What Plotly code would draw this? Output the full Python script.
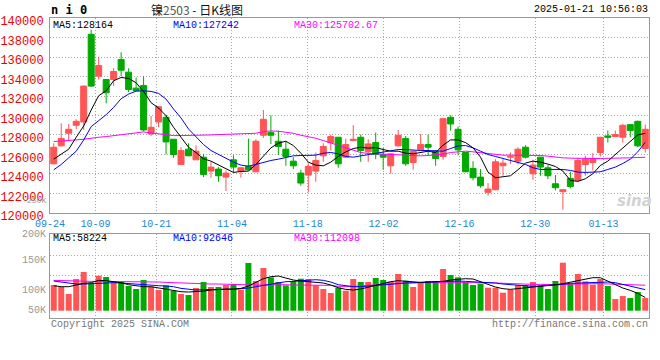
import plotly.graph_objects as go

# ---------------- data ----------------
dates = [
    "2024-09-24", "2024-09-25", "2024-09-26", "2024-09-27", "2024-09-30",
    "2024-10-08", "2024-10-09", "2024-10-10", "2024-10-11", "2024-10-14",
    "2024-10-15", "2024-10-16", "2024-10-17", "2024-10-18", "2024-10-21",
    "2024-10-22", "2024-10-23", "2024-10-24", "2024-10-25", "2024-10-28",
    "2024-10-29", "2024-10-30", "2024-10-31", "2024-11-01", "2024-11-04",
    "2024-11-05", "2024-11-06", "2024-11-07", "2024-11-08", "2024-11-11",
    "2024-11-12", "2024-11-13", "2024-11-14", "2024-11-15", "2024-11-18",
    "2024-11-19", "2024-11-20", "2024-11-21", "2024-11-22", "2024-11-25",
    "2024-11-26", "2024-11-27", "2024-11-28", "2024-11-29", "2024-12-02",
    "2024-12-03", "2024-12-04", "2024-12-05", "2024-12-06", "2024-12-09",
    "2024-12-10", "2024-12-11", "2024-12-12", "2024-12-13", "2024-12-16",
    "2024-12-17", "2024-12-18", "2024-12-19", "2024-12-20", "2024-12-23",
    "2024-12-24", "2024-12-25", "2024-12-26", "2024-12-27", "2024-12-30",
    "2024-12-31", "2025-01-02", "2025-01-03", "2025-01-06", "2025-01-07",
    "2025-01-08", "2025-01-09", "2025-01-10", "2025-01-13", "2025-01-14",
    "2025-01-15", "2025-01-16", "2025-01-17", "2025-01-20", "2025-01-21",
]

opens = [
    125036, 126880, 128176, 128994, 129335, 138343, 134041, 133700, 133700, 135747,
    134451, 132813, 133089, 128108, 129335, 129811, 127560, 124968, 126537, 125445,
    125718, 124285, 124490, 123671, 125445, 124285, 124763, 124217, 127969, 128244,
    127355, 126537, 125309, 124080, 123876, 124285, 125855, 127219, 127765, 125718,
    127424, 127765, 126264, 127219, 125991, 124831, 126880, 127628, 125172, 126469,
    127014, 126332, 125787, 129811, 128585, 126196, 124558, 123671, 122101, 122374,
    124831, 125718, 125309, 126742, 124012, 125718, 124626, 122988, 122169, 123535,
    123330, 124968, 125172, 126196, 127901, 127833, 127765, 129062, 129403, 126606,
]
highs = [
    127148, 129198, 129130, 129608, 133089, 138820, 136021, 133750, 134860, 136499,
    134860, 133906, 134041, 129949, 130967, 130086, 127600, 126742, 127148, 126946,
    126059, 125240, 124695, 124354, 125923, 124695, 127628, 127560, 130563, 130017,
    128449, 127355, 125718, 124422, 125104, 126196, 127148, 128040, 127800, 127628,
    129005, 128040, 127560, 128244, 126674, 126100, 128517, 127901, 126400, 128108,
    128040, 126469, 129700, 130017, 128858, 126230, 125309, 124490, 123057, 125513,
    125513, 126196, 126742, 126946, 125445, 125750, 124899, 123876, 122400, 124217,
    125650, 125855, 126128, 127800, 128449, 128449, 129130, 129100, 129471, 129062,
]
lows = [
    124968, 126810, 127424, 128585, 128517, 132950, 133700, 131244, 133020, 134041,
    132404, 132500, 128380, 127903, 128790, 125991, 125650, 124930, 125820, 125420,
    123671, 123603, 123193, 122238, 124148, 123603, 124354, 124148, 127697, 127080,
    125923, 124831, 124490, 122783, 122101, 123193, 125240, 126401, 124626, 125650,
    127400, 125240, 125240, 125513, 124422, 124012, 126810, 124831, 124422, 126401,
    125923, 124831, 125445, 128449, 125923, 124180, 123330, 122579, 121761, 122306,
    123807, 125036, 124968, 125582, 123398, 123807, 123466, 122306, 120328, 122510,
    123262, 123807, 124354, 125787, 127219, 127765, 127219, 127765, 126742, 126196,
]
closes = [
    126742, 127630, 128585, 129403, 133020, 133020, 135133, 132336, 134519, 134656,
    132677, 132540, 128517, 128790, 130899, 127285, 125991, 126401, 125855, 126332,
    123944, 124695, 123807, 124080, 124695, 124626, 124422, 127355, 129608, 127969,
    126810, 125787, 124831, 123056, 124763, 125377, 126810, 127833, 125036, 127014,
    127560, 126401, 127080, 125991, 125718, 126059, 127969, 125036, 126332, 127014,
    126742, 125582, 129676, 129130, 126469, 124217, 123603, 122783, 122442, 125240,
    125104, 125787, 126537, 125718, 124899, 124695, 123807, 122579, 122374, 122715,
    125377, 125513, 125513, 127765, 127765, 128040, 128994, 128449, 126880, 128585,
]

ma5 = [
    125514, 126060, 126537, 127765, 128925, 130560, 132030, 132539, 133566, 133907,
    133805, 133361, 132474, 131314, 130767, 129982, 128788, 127765, 126742, 126196,
    125548, 125310, 124900, 124490, 124149, 124251, 124286, 124968, 125787, 126674,
    127151, 127356, 126912, 126128, 125207, 124900, 124832, 125207, 125787, 126264,
    126605, 126742, 126640, 126708, 126503, 126333, 126333, 126128, 126060, 126196,
    126333, 126196, 126946, 127492, 127492, 127219, 126674, 125719, 124183, 123603,
    123671, 123808, 124422, 125105, 125310, 125207, 125003, 124763, 124286, 123330,
    123227, 123501, 124012, 124865, 125310, 125992, 126674, 127424, 128004, 128164,
]
ma10 = [
    124422, 124968, 125651, 126333, 127492, 128856, 129471, 130084, 130836, 131723,
    132201, 132508, 132539, 132474, 132270, 131689, 130665, 129744, 128617, 127833,
    127015, 126401, 125992, 125548, 125207, 124900, 124797, 124968, 125207, 125378,
    125514, 125719, 125855, 125889, 125889, 125923, 126128, 126196, 126060, 125787,
    125719, 125855, 125992, 126128, 126264, 126401, 126503, 126503, 126435, 126401,
    126401, 126333, 126333, 126605, 126878, 126912, 126674, 126333, 125992, 125787,
    125582, 125378, 125241, 124968, 124627, 124456, 124456, 124456, 124456, 124354,
    124183, 124149, 124149, 124217, 124456, 124695, 125071, 125514, 126264, 127242,
]
ma30 = [
    127322, 127356, 127424, 127492, 127560, 127697, 127765, 127833, 127936, 128038,
    128174, 128277, 128311, 128209, 128106, 127970, 127936, 127936, 127936, 127936,
    127970, 128004, 128038, 128072, 128106, 128106, 128106, 128174, 128345, 128413,
    128379, 128311, 128174, 127970, 127833, 127663, 127424, 127185, 126912, 126674,
    126401, 126196, 126094, 126060, 126026, 125992, 125923, 125889, 125855, 125855,
    125889, 125923, 126026, 126196, 126299, 126333, 126264, 126162, 126060, 125957,
    125923, 125923, 125923, 125923, 125923, 125889, 125821, 125719, 125651, 125616,
    125582, 125582, 125582, 125582, 125582, 125582, 125616, 125651, 125685, 125703,
]
ma30_label = "125702.67"

volume = [
    113000, 104200, 73400, 139400, 170200, 120300, 154000, 148200, 127600, 126200,
    108600, 95400, 135000, 105600, 91000, 111500, 88000, 73400, 68900, 99800,
    126200, 104200, 104200, 113000, 117400, 92400, 209800, 130600, 187800, 146700,
    126200, 111500, 130600, 140800, 139400, 111500, 95400, 77800, 101200, 88000,
    139400, 126200, 126200, 143800, 135000, 127600, 161400, 132000, 104200, 123200,
    130600, 130600, 183400, 157000, 146700, 126200, 113000, 118800, 101200, 101200,
    79200, 92400, 113000, 113000, 126200, 111500, 95400, 130600, 211200, 117400,
    161400, 129100, 114400, 139400, 108600, 51300, 64500, 55700, 82100, 55700,
]
vol_ma5 = [
    110000, 105600, 105600, 113000, 120300, 123200, 133500, 132000, 129100, 123200,
    114400, 108600, 105600, 105600, 99800, 95400, 89500, 83600, 82200, 83600,
    86600, 91000, 93900, 95400, 95400, 98300, 108600, 124700, 140800, 149600,
    152600, 143800, 135000, 130600, 127600, 123200, 121800, 113000, 101200, 93900,
    91000, 95400, 104200, 110000, 120300, 127600, 132000, 129100, 126200, 124700,
    126200, 127600, 129100, 135000, 139400, 140800, 139400, 129100, 115900, 104200,
    96800, 93900, 96800, 101200, 104200, 105600, 110000, 114400, 118800, 126200,
    133500, 140800, 145200, 145200, 130600, 113000, 99800, 89500, 76300, 58224,
]
vol_ma10 = [
    130600, 126200, 120300, 117400, 117400, 118800, 121800, 124700, 123200, 121800,
    118800, 117400, 115900, 113000, 110000, 108600, 105600, 98300, 93900, 91000,
    92400, 93900, 95400, 93900, 93900, 95400, 99800, 105600, 111500, 118800,
    124700, 127600, 129100, 132000, 135000, 136400, 133500, 126200, 114400, 108600,
    105600, 105600, 108600, 111500, 115900, 118800, 120300, 121800, 123200, 124700,
    126200, 126200, 127600, 130600, 130600, 129100, 127600, 126200, 124700, 121800,
    117400, 114400, 110000, 108600, 107100, 108600, 110000, 114400, 115900, 120300,
    121800, 123200, 124700, 126200, 126200, 123200, 115900, 105600, 98300, 92646,
]
vol_ma30 = [
    133500, 132000, 130600, 130600, 130600, 129100, 129100, 129100, 129100, 129100,
    129100, 129100, 129100, 127600, 126200, 124700, 123200, 120300, 118800, 117400,
    117400, 117400, 117400, 115900, 114400, 113000, 111500, 113000, 113000, 114400,
    114400, 114400, 113000, 113000, 113000, 111500, 111500, 111500, 107100, 105600,
    107100, 108600, 111500, 114400, 117400, 118800, 121800, 121800, 123200, 123200,
    123200, 123200, 123200, 124700, 124700, 126200, 126200, 124700, 123200, 121800,
    120300, 117400, 117400, 115900, 115900, 115900, 114400, 114400, 115900, 117400,
    117400, 118800, 118800, 118800, 117400, 117400, 115900, 114400, 113000, 112098,
]

tick_dates = ["09-24", "10-09", "10-21", "11-04", "11-18", "12-02", "12-16", "12-30", "01-13"]
price_ticks = [120000, 122000, 124000, 126000, 128000, 130000, 132000, 134000, 136000, 138000, 140000]
vol_labels = ["50K", "100K", "150K", "200K", "250K"]

# ---------------- styling ----------------
RED = "#ff5555"
GREEN = "#00aa00"
GRID = "#a8a8a8"
BORDER = "#999999"
MONO = "Liberation Mono, DejaVu Sans Mono, monospace"

idx = list(range(len(dates)))
n = len(dates)
md = [d[5:] for d in dates]
tick_idx = [md.index(t) for t in tick_dates]
# grid lines are laid out on an (n-1)-step scale across the panel
grid_pos = [k * n / (n - 1) - 0.5 for k in tick_idx]
bar_colors = [RED if c >= o else GREEN for o, c in zip(opens, closes)]

fig = go.Figure()

fig.add_trace(go.Candlestick(
    x=idx, open=opens, high=highs, low=lows, close=closes,
    increasing=dict(line=dict(color=RED, width=1), fillcolor=RED),
    decreasing=dict(line=dict(color=GREEN, width=1), fillcolor=GREEN),
    whiskerwidth=0, xaxis="x", yaxis="y", hoverinfo="skip",
))
for ys, col in ((ma30, "#ff00ff"), (ma10, "#0000ff"), (ma5, "#000000")):
    fig.add_trace(go.Scatter(x=idx, y=ys, mode="lines", line=dict(color=col, width=1),
                             xaxis="x", yaxis="y", hoverinfo="skip"))

fig.add_trace(go.Bar(x=idx, y=volume, marker=dict(color=bar_colors, line=dict(width=0)),
                     width=0.8, xaxis="x2", yaxis="y2", hoverinfo="skip"))
for ys, col in ((vol_ma30, "#ff00ff"), (vol_ma10, "#0000ff"), (vol_ma5, "#000000")):
    fig.add_trace(go.Scatter(x=idx, y=ys, mode="lines", line=dict(color=col, width=1),
                             xaxis="x2", yaxis="y2", hoverinfo="skip"))

axis_common = dict(showline=True, linecolor=BORDER, linewidth=1, mirror=True,
                   zeroline=False, ticks="", showgrid=True, gridcolor=GRID,
                   gridwidth=1, griddash="1px,2px", automargin=False)

fig.update_layout(
    width=660, height=360,
    margin=dict(l=50, r=11, t=18, b=42),
    paper_bgcolor="white", plot_bgcolor="white",
    showlegend=False, boxgap=0.2, boxgroupgap=0, bargap=0.2,
    font=dict(family=MONO, size=10, color="#000"),
    xaxis=dict(axis_common, domain=[0, 1], range=[-0.5, n - 0.5], anchor="y",
               tickmode="array", tickvals=grid_pos, ticktext=tick_dates,
               tickfont=dict(family=MONO, size=10, color="#1a88d8"),
               ticklabelstandoff=1, rangeslider=dict(visible=False)),
    yaxis=dict(axis_common, domain=[0.35, 1], range=[119980, 140020], anchor="x",
               tickmode="array", tickvals=price_ticks, ticktext=[str(v) for v in price_ticks],
               tickfont=dict(family=MONO, size=12, color="#ee0000"),
               ticklabelshift=3, ticklabelstandoff=3),
    xaxis2=dict(axis_common, domain=[0, 1], range=[-0.5, n - 0.5], anchor="y2",
                matches="x", tickmode="array", tickvals=grid_pos, showticklabels=False),
    yaxis2=dict(axis_common, domain=[0, 0.28], range=[-32120, 337480], anchor="x2",
                tickmode="array", tickvals=[157000, 245000], showticklabels=False),
)

ann = []
def txt(text, x, y, xanchor="left", color="#000", size=10, family=MONO, bold=False):
    ann.append(dict(text=("<b>%s</b>" % text) if bold else text, x=x, y=y,
                    xref="paper", yref="paper", xanchor=xanchor, yanchor="middle",
                    showarrow=False, borderpad=0,
                    font=dict(family=family, size=size, color=color)))

txt("n i 0", 0.0, 1.027, bold=True, size=12, family="DejaVu Sans Mono")
txt("镍<span style='color:#555'>2503</span> - 日K线图", 0.245, 1.027, xanchor="center",
    size=12, family="Noto Sans CJK SC", color="#111")
txt("2025-01-21 10:56:03", 1.0, 1.027, xanchor="right", size=10)

txt("MA5:%d" % ma5[-1], 0.004, 0.976)
txt("MA10:%d" % ma10[-1], 0.204, 0.976, color="#0000ff")
txt("MA30:" + ma30_label, 0.405, 0.976, color="#ff00ff")

txt("MA5:%d" % vol_ma5[-1], 0.004, 0.266)
txt("MA10:%d" % vol_ma10[-1], 0.204, 0.266, color="#0000ff")
txt("MA30:%d" % vol_ma30[-1], 0.405, 0.266, color="#ff00ff")

for lab, yy, sz in zip(vol_labels, (0.024, 0.091, 0.191, 0.279, 0.392), (10, 10, 10, 10, 8)):
    txt(lab, -0.005, yy, xanchor="right", color="#999999", size=sz)

txt("Copyright 2025 SINA.COM", 0.0, -0.022, color="#777777")
txt("http://finance.sina.com.cn", 1.0, -0.022, xanchor="right", color="#777777")
ann.append(dict(text="<b><i>sina</i></b>", x=0.975, y=0.39, xref="paper", yref="paper",
                xanchor="center", yanchor="middle", showarrow=False,
                font=dict(family="DejaVu Sans", size=15, color="#d2d2d2")))

fig.update_layout(annotations=ann)

fig.write_html("out.html", config={"displayModeBar": False},
               post_script="document.body.style.margin='0';")
